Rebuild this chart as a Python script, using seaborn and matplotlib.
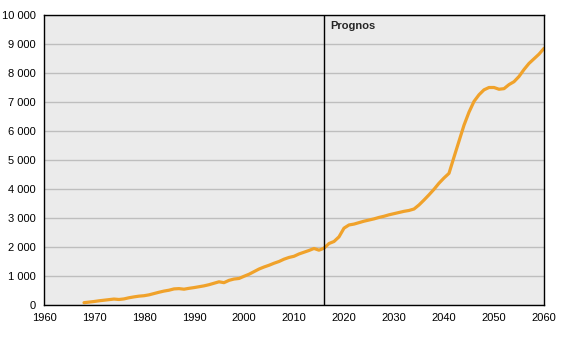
import matplotlib
matplotlib.use("Agg")
import matplotlib.pyplot as plt
import seaborn as sns
import pandas as pd
from matplotlib.ticker import FuncFormatter

years = list(range(1968, 2061))
values = [
    80, 100, 120, 145, 165, 185, 205, 190, 210, 250,          # 1968-1977
    280, 305, 320, 350, 395, 440, 480, 510, 555, 565,         # 1978-1987
    545, 575, 600, 630, 660, 700, 750, 800, 770, 850,         # 1988-1997
    895, 915, 990, 1060, 1150, 1240, 1310, 1370, 1440, 1500,  # 1998-2007
    1580, 1640, 1680, 1760, 1820, 1880, 1950, 1890, 1960, 2120,  # 2008-2017
    2190, 2350, 2650, 2760, 2790, 2840, 2890, 2930, 2970, 3020,  # 2018-2027
    3060, 3110, 3150, 3190, 3230, 3260, 3310, 3450, 3620, 3800,  # 2028-2037
    3990, 4200, 4380, 4540, 5100, 5650, 6200, 6650, 7020, 7250,  # 2038-2047
    7420, 7500, 7500, 7440, 7460, 7600, 7700, 7880, 8120, 8330,  # 2048-2057
    8490, 8650, 8850,                                          # 2058-2060
]
forecast_year = 2016
forecast_label = "Prognos"
x_ticks = list(range(1960, 2061, 10))
y_ticks = list(range(0, 10001, 1000))

df = pd.DataFrame({"year": years, "value": values})

sns.set_style("white")
plt.rcParams["font.family"] = ["Liberation Sans", "DejaVu Sans"]

fig = plt.figure(figsize=(5.67, 3.40), dpi=100)
ax = fig.add_axes([44/567, 35/340, 500/567, 290/340])
ax.set_facecolor("#EBEBEB")

sns.lineplot(data=df, x="year", y="value", ax=ax, color="#F0A22B", linewidth=2.3)

ax.set_xlim(1960, 2060)
ax.set_ylim(0, 10000)
ax.set_xticks(x_ticks)
ax.set_yticks(y_ticks)
ax.yaxis.set_major_formatter(FuncFormatter(lambda v, p: f"{int(v):,}".replace(",", " ")))
ax.grid(axis="y", color="#BEBEBE", linewidth=1.0)
ax.set_axisbelow(True)
ax.set_xlabel("")
ax.set_ylabel("")
for s in ax.spines.values():
    s.set_color("black")
    s.set_linewidth(1.0)
    s.set_visible(True)
ax.tick_params(axis="both", direction="out", length=4, width=1, color="black",
               labelsize=8, labelcolor="black", pad=2)

ax.axvline(forecast_year, color="black", linewidth=1.0)
ax.text(forecast_year + 1.2, 9800, forecast_label, fontsize=8, fontweight="bold",
        ha="left", va="top")

fig.savefig("out.png", dpi=100)
